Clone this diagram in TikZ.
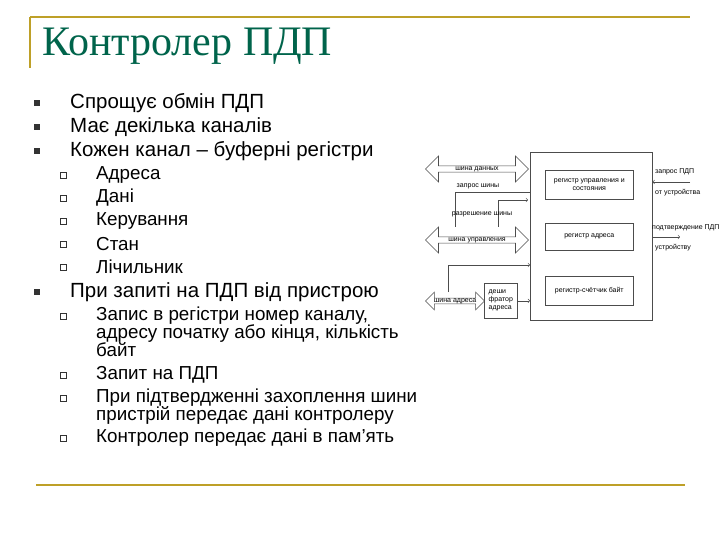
\documentclass[tikz,border=0pt]{standalone}
\usepackage{fontspec}
\setmainfont{Liberation Sans}
\newfontfamily\titlefont{Liberation Serif}
\usetikzlibrary{shapes.arrows}
\definecolor{gold}{RGB}{190,160,40}
\definecolor{ttl}{RGB}{0,100,75}
\begin{document}
\begin{tikzpicture}[x=1pt,y=-1pt,
  txt/.style={anchor=west,inner sep=0,font=\fontsize{20.5}{22}\selectfont},
  stxt/.style={anchor=west,inner sep=0,font=\fontsize{18.8}{18}\selectfont},
  bl/.style={fill=black!80,minimum size=6pt,inner sep=0},
  sbl/.style={draw=black!80,minimum size=6pt,inner sep=0,line width=0.6pt},
  sm/.style={font=\fontsize{7}{8}\selectfont,inner sep=0,align=center},
  box/.style={draw=black!70,line width=0.6pt},
  dbl/.style={draw=black!70,line width=0.6pt,fill=white,double arrow,double arrow head extend=9pt,double arrow head indent=0pt,minimum height=103pt,minimum width=26pt,inner sep=0}]
\useasboundingbox (0,0) rectangle (720,540);
\draw[gold,line width=1.2pt] (30,17) -- (690,17);
\draw[gold,line width=1.2pt] (30,17) -- (30,68);
\draw[gold,line width=1.2pt] (36,485) -- (685,485);
\node[anchor=west,inner sep=0,text=ttl,font=\titlefont\fontsize{42}{44}\selectfont] (t) at (42,46) {Контролер ПДП};
% bullets
\foreach \y/\s [count=\i] in {103/Спрощує обмін ПДП,127/Має декілька каналів,151/Кожен канал -- буферні регістри,292/При запиті на ПДП від пристрою}{
  \node[bl] (b\i) at (37,\y) {};
  \node[txt] (bt\i) at (70,\y) {\s};}
\foreach \y/\s [count=\i] in {175/Адреса,198/Дані,221/Керування,244/Стан,267/Лічильник,375/Запит на ПДП,438/Контролер передає дані в пам’ять}{
  \node[sbl] (s\i) at (63,\y) {};
  \node[stxt] (st\i) at (96,\y) {\s};}
\node[sbl] (s8) at (63,316) {};
\node[stxt,anchor=north west,align=left] (st8) at (96,307) {Запис в регістри номер каналу,\\адресу початку або кінця, кількість\\байт};
\node[sbl] (s9) at (63,398) {};
\node[stxt,anchor=north west,align=left] (st9) at (96,389) {При підтвердженні захоплення шини\\пристрій передає дані контролеру};
% diagram
\node[box,minimum width=122pt,minimum height=168pt,anchor=north west] (ctl) at (530,152) {};
\node[box,minimum width=88pt,minimum height=29pt,anchor=north west,sm] (r1) at (545,170) {регистр управления и\\состояния};
\node[box,minimum width=88pt,minimum height=27pt,anchor=north west,sm] (r2) at (545,223) {регистр адреса};
\node[box,minimum width=88pt,minimum height=29pt,anchor=north west,sm] (r3) at (545,276) {регистр-счётчик байт};
\node[dbl,sm] (db) at (477,169) {шина данных};
\node[dbl,sm] (cb) at (477,240) {шина управления};
\node[dbl,sm,minimum height=59pt,minimum width=16pt,double arrow head extend=6pt] (ab) at (455,301) {шина адреса};
\node[box,minimum width=33pt,minimum height=35pt,anchor=north west,sm,align=left] (dec) at (484,283) {деши\\фратор\\адреса};
\coordinate (q1) at (530,192); \coordinate (q2) at (455,192); \coordinate (q3) at (455,227);
\draw[black!70,line width=0.6pt] (q1) -- (q2) -- (q3);
\node[sm] (ql) at (478,186) {запрос шины};
\coordinate (g1) at (498,227); \coordinate (g2) at (498,200); \coordinate (g3) at (528,200);
\draw[black!70,line width=0.6pt,->] (g1) -- (g2) -- (g3);
\node[sm] (gl) at (482,214) {разрешение шины};
\coordinate (h2) at (448,265); \coordinate (h3) at (530,265); \coordinate (h4) at (448,292);
\draw[black!70,line width=0.6pt,->] (h4) -- (h2) -- (h3);
\draw[black!70,line width=0.6pt,->] (dec.east) -- (dec.east -| ctl.west);
\coordinate (p1) at (690,182); \coordinate (p2) at (652,237); \coordinate (p3) at (680,237);
\draw[black!70,line width=0.6pt,->] (p1) -- (p1 -| ctl.east);
\node[sm,anchor=west] (pl1) at (655,172) {запрос ПДП};
\node[sm,anchor=west] (pl2) at (655,193) {от устройства};
\draw[black!70,line width=0.6pt,->] (p2) -- (p3);
\node[sm,anchor=west] (pl3) at (652,228) {подтверждение ПДП};
\node[sm,anchor=west] (pl4) at (655,248) {устройству};
\end{tikzpicture}
\end{document}
